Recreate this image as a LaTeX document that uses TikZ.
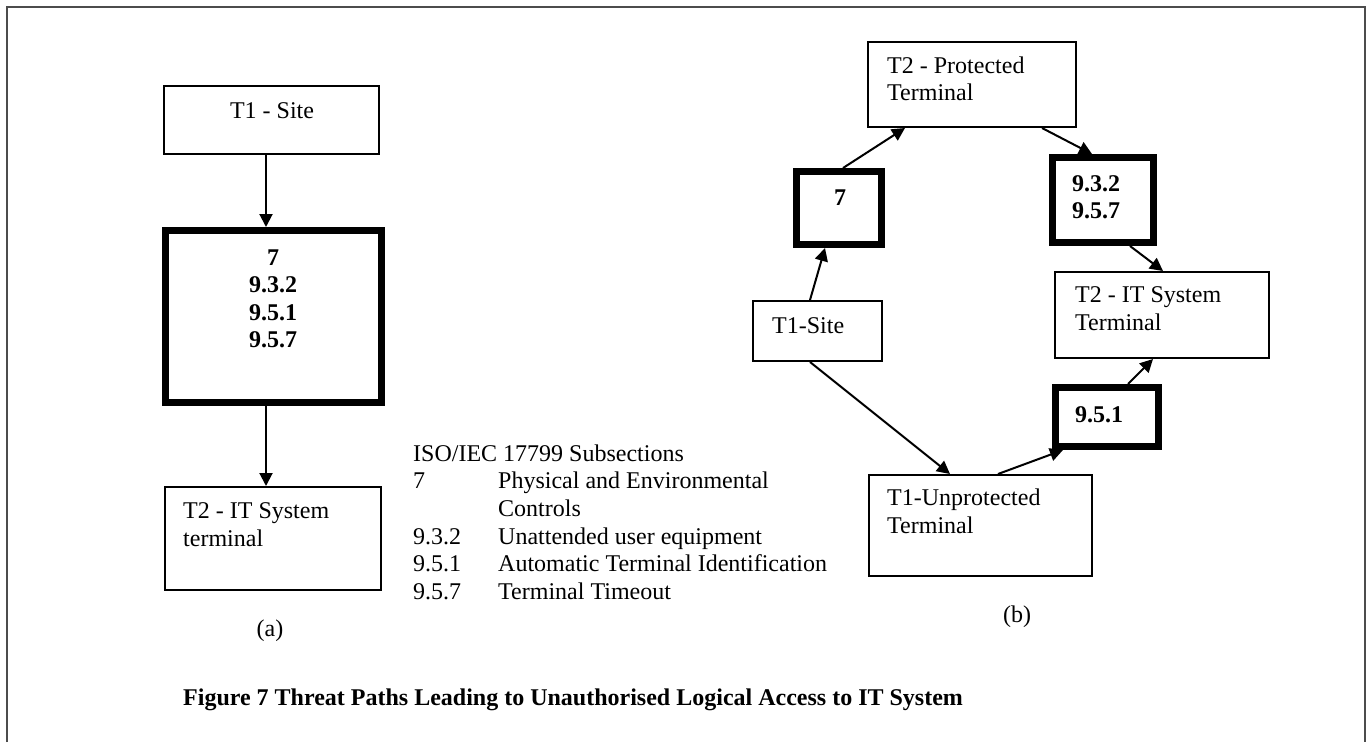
\documentclass[tikz,border=0pt]{standalone}
\usepackage{fontspec}
\setmainfont{Liberation Serif}
\usetikzlibrary{arrows.meta,calc}
\begin{document}
\begin{tikzpicture}[x=1pt,y=-1pt,
  every node/.style={font=\fontsize{24}{27.5}\selectfont},
  thinbox/.style={draw, line width=2pt, inner sep=0pt},
  thickbox/.style={draw, line width=7pt, inner sep=0pt},
  lbl/.style={anchor=base west, inner sep=0pt},
  lbc/.style={anchor=base, inner sep=0pt},
  arr/.style={line width=2pt, -{Triangle[length=13pt,width=13pt]}}]
\useasboundingbox (0,0) rectangle (1367,742);
% open frame
\draw[line width=2pt, black!70] (7,742) -- (7,7) -- (1365,7) -- (1365,742);

% ---------- (a) ----------
\node[thinbox, minimum width=215pt, minimum height=68pt] (sa) at (271.5,120) {};
\node[lbc] (saT) at (272,118) {T1 - Site};
\node[thickbox, minimum width=216pt, minimum height=172pt] (ca) at (273.5,316.5) {};
\node[lbc] (ca1) at (273,265) {\textbf{7}};
\node[lbc] (ca2) at (273,292) {\textbf{9.3.2}};
\node[lbc] (ca3) at (273,320) {\textbf{9.5.1}};
\node[lbc] (ca4) at (273,347) {\textbf{9.5.7}};
\node[thinbox, minimum width=216pt, minimum height=103pt] (ta) at (273,538.5) {};
\node[lbl] (taT1) at (183,518) {T2 - IT System};
\node[lbl] (taT2) at (183,546) {terminal};
\node[lbc] (capA) at (270,636) {(a)};

\draw[arr] ([xshift=-5.5pt]sa.south) -- ([xshift=-7.5pt]ca.north);
\draw[arr] ([xshift=-7.5pt]ca.south) -- ([xshift=-7pt]ta.north);

% ---------- legend ----------
\node[lbl] (lg0) at (413,461) {ISO/IEC 17799 Subsections};
\node[lbl] (lg1a) at (413,488.5) {7};
\node[lbl] (lg1b) at (498,488.5) {Physical and Environmental};
\node[lbl] (lg1c) at (498,516) {Controls};
\node[lbl] (lg2a) at (413,544) {9.3.2};
\node[lbl] (lg2b) at (498,544) {Unattended user equipment};
\node[lbl] (lg3a) at (413,571.5) {9.5.1};
\node[lbl] (lg3b) at (498,571.5) {Automatic Terminal Identification};
\node[lbl] (lg4a) at (413,599) {9.5.7};
\node[lbl] (lg4b) at (498,599) {Terminal Timeout};

% ---------- (b) ----------
\node[thinbox, minimum width=208pt, minimum height=85pt] (pb) at (972,84.5) {};
\node[lbl] (pbT1) at (887,73) {T2 - Protected};
\node[lbl] (pbT2) at (887,100) {Terminal};
\node[thickbox, minimum width=85pt, minimum height=73pt] (sb) at (839,208) {};
\node[lbc] (sbT) at (840,205) {\textbf{7}};
\node[thinbox, minimum width=129pt, minimum height=60pt] (tb) at (817.5,331) {};
\node[lbl] (tbT) at (772,333) {T1-Site};
\node[thickbox, minimum width=101pt, minimum height=85pt] (cb) at (1103,200) {};
\node[lbl] (cbT1) at (1072,191) {\textbf{9.3.2}};
\node[lbl] (cbT2) at (1072,218) {\textbf{9.5.7}};
\node[thinbox, minimum width=214pt, minimum height=86pt] (ib) at (1162,315) {};
\node[lbl] (ibT1) at (1075,302) {T2 - IT System};
\node[lbl] (ibT2) at (1075,330) {Terminal};
\node[thickbox, minimum width=103pt, minimum height=59pt] (db) at (1107,417) {};
\node[lbl] (dbT) at (1075,422) {\textbf{9.5.1}};
\node[thinbox, minimum width=223pt, minimum height=101pt] (ub) at (980.5,525.5) {};
\node[lbl] (ubT1) at (887,505) {T1-Unprotected};
\node[lbl] (ubT2) at (887,533) {Terminal};
\node[lbc] (capB) at (1017,622) {(b)};

\draw[arr] ([xshift=-7.5pt]tb.north) -- ([xshift=-14pt]sb.south);
\draw[arr] ([xshift=4pt]sb.north) -- ([xshift=-67pt]pb.south);
\draw[arr] ([xshift=70pt]pb.south) -- ([xshift=-11pt]cb.north);
\draw[arr] ([xshift=27pt]cb.south) -- ([xshift=1pt]ib.north);
\draw[arr] ([xshift=-7.5pt]tb.south) -- ([xshift=-30.5pt]ub.north);
\draw[arr] ([xshift=17.5pt]ub.north) -- ([xshift=-44pt]db.south);
\draw[arr] ([xshift=21pt]db.north) -- ([xshift=-9pt]ib.south);

% ---------- caption ----------
\node[lbl] (cap) at (183,705) {\textbf{Figure 7 Threat Paths Leading to Unauthorised Logical Access to IT System}};
\end{tikzpicture}
\end{document}
